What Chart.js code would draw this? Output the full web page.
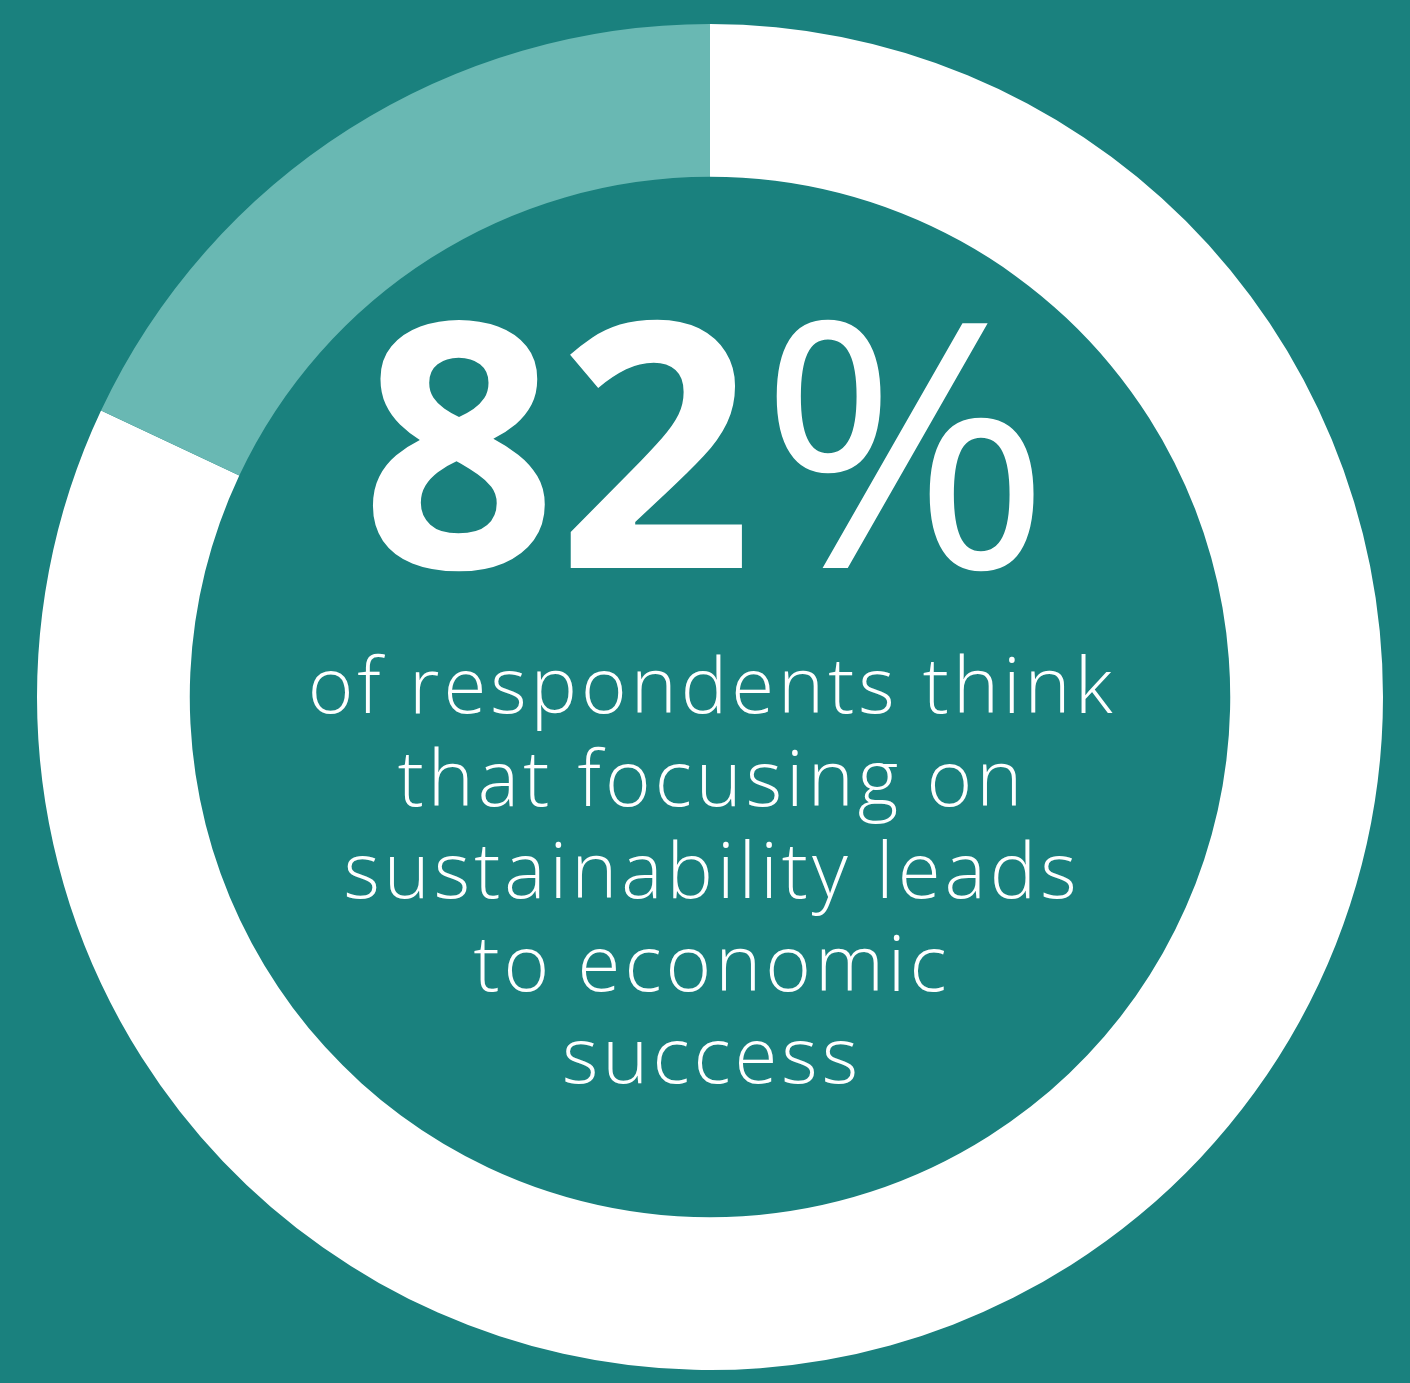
<!DOCTYPE html>
<html>
<head>
<meta charset="utf-8">
<script src="https://cdn.jsdelivr.net/npm/chart.js@4"></script>
<style>
	html, body { margin: 0; padding: 0; background: #1a817e; }
	#wrap { width: 1410px; height: 1383px; }
</style>
</head>
<body>
<div id="wrap"><canvas id="shareChart"></canvas></div>
<script>
"use strict"

const labels = ["Focus on sustainability leads to success", "Other respondents"]
const values = [82, 18]
const colors = ["#ffffff", "#69b8b3"]
const caption = ["of respondents think", "that focusing on", "sustainability leads", "to economic", "success"]

// big number + caption in the hole
const centerText = {
	id: "centerText",
	afterDraw(chart) {
		const ctx = chart.ctx
		ctx.save()
		ctx.fillStyle = "#ffffff"
		ctx.textBaseline = "alphabetic"

		const num = String(values[0])
		ctx.font = "700 343px 'Open Sans'"
		const numW = ctx.measureText(num).width
		ctx.font = "400 343px 'Open Sans'"
		const pctW = ctx.measureText("%").width
		const pctTarget = 292
		const gap = 6
		const total = numW + gap + pctTarget
		let x = 706 - total / 2
		ctx.textAlign = "left"
		ctx.font = "700 343px 'Open Sans'"
		ctx.fillText(num, x, 568)
		ctx.save()
		ctx.translate(x + numW + gap, 568)
		ctx.scale(pctTarget / pctW, 1)
		ctx.font = "400 343px 'Open Sans'"
		ctx.fillText("%", 0, 0)
		ctx.restore()

		ctx.textAlign = "center"
		ctx.font = "300 78px 'Open Sans'"
		if ("letterSpacing" in ctx) ctx.letterSpacing = "4px"
		caption.forEach((line, i) => {
			ctx.fillText(line, 712, 713 + i * 92.5)
		})
		ctx.restore()
	},
}

const ctx = document.getElementById("shareChart")
const shareChart = new Chart(ctx, {
	type: "doughnut",
	data: {
		labels: labels,
		datasets: [
			{
				data: values,
				backgroundColor: colors,
				borderWidth: 0,
			},
		],
	},
	options: {
		responsive: true,
		maintainAspectRatio: false,
		animation: false,
		cutout: "77.3%",
		layout: {
			padding: { left: 37, right: 27, top: 24, bottom: 13 },
		},
		plugins: {
			legend: { display: false },
			tooltip: { enabled: false },
		},
	},
	plugins: [centerText],
})
</script>
</body>
</html>
